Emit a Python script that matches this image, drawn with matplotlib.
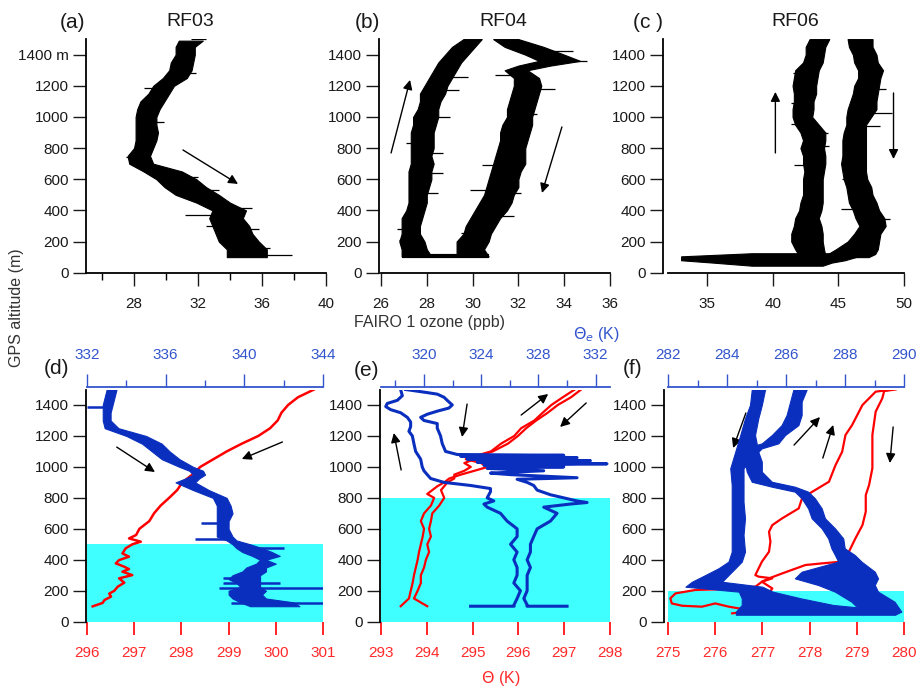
import matplotlib

matplotlib.use("Agg")
import numpy as np  # noqa: E402
import matplotlib.pyplot as plt  # noqa: E402
from matplotlib.ticker import MultipleLocator, FixedLocator  # noqa: E402

plt.rcParams["font.family"] = ["Liberation Sans", "DejaVu Sans"]

W, H = 920, 692
INK = "#1a1a1a"
RED = "#ff0000"
RED_TXT = "#ff2a2a"
BLUE = "#0a2fbe"
BLUE_AX = "#3355cc"
CYAN = "#40ffff"

# ---------------------------------------------------------------- top row: ozone (ppb)
RF03_ALT = [1490, 1450, 1400, 1350, 1300, 1250, 1200, 1150, 1100, 1050, 1000, 950, 900, 850,
            800, 750, 700, 650, 600, 550, 500, 450, 400, 350, 300, 250, 200, 150, 100]
RF03_LO = [30.8, 30.6, 30.6, 30.3, 30.2, 29.8, 29.2, 28.9, 28.4, 28.2, 28.1, 28.1, 28.1, 28.1,
           28.0, 27.6, 27.7, 28.6, 29.4, 29.9, 30.6, 31.9, 32.9, 32.7, 32.9, 33.1, 33.3, 33.8, 33.8]
RF03_HI = [32.3, 31.8, 31.8, 31.7, 31.6, 31.3, 30.5, 30.2, 29.9, 29.6, 29.4, 29.4, 29.5, 29.4,
           29.2, 29.0, 29.2, 31.0, 31.9, 32.5, 33.3, 34.0, 35.0, 34.8, 35.2, 35.4, 35.8, 36.3, 36.3]
# isolated spikes sticking out of the band (altitude, far end in ppb)
RF03_SPIKE_ALT = [1500, 1280, 1184, 968, 745, 642, 617, 531, 413, 370, 300, 278, 160, 113]
RF03_SPIKE_END = [32.5, 31.9, 28.6, 29.9, 27.5, 31.0, 32.0, 33.3, 35.4, 31.2, 32.5, 35.8, 36.5, 37.9]

RF04_UP_ALT = [1500, 1450, 1400, 1350, 1300, 1250, 1200, 1150, 1100, 1050, 1000, 950, 900, 850,
               800, 750, 700, 650, 600, 550, 500, 450, 400, 350, 300, 250, 200, 150, 105]
RF04_UP_LO = [29.6, 29.1, 28.8, 28.5, 28.3, 28.1, 27.9, 27.7, 27.7, 27.6, 27.4, 27.4, 27.3, 27.3,
              27.3, 27.3, 27.3, 27.2, 27.2, 27.2, 27.2, 27.2, 27.1, 26.9, 26.9, 26.9, 26.8, 26.9, 26.9]
RF04_UP_HI = [30.4, 30.1, 29.8, 29.5, 29.3, 29.1, 28.9, 28.8, 28.6, 28.5, 28.5, 28.4, 28.3, 28.3,
              28.3, 28.2, 28.3, 28.2, 28.2, 28.1, 28.0, 28.0, 27.9, 27.8, 27.7, 27.7, 27.9, 28.0, 28.2]
RF04_UP_SPIKE_ALT = [1259, 1171, 1002, 996, 831, 771, 638, 514, 278, 210]
RF04_UP_SPIKE_END = [29.8, 29.4, 29.0, 27.45, 27.1, 28.7, 28.7, 28.5, 26.7, 26.8]
RF04_DN_ALT = [1500, 1450, 1400, 1360, 1330, 1300, 1250, 1200, 1150, 1100, 1050, 1000, 950, 900,
               850, 800, 750, 700, 650, 600, 550, 500, 450, 400, 350, 300, 250, 200, 150, 105]
RF04_DN_LO = [30.9, 31.4, 32.3, 32.9, 32.0, 31.4, 31.8, 31.8, 31.7, 31.6, 31.5, 31.5, 31.3, 31.2,
              31.2, 31.1, 31.0, 30.9, 30.8, 30.7, 30.6, 30.5, 30.3, 30.1, 29.9, 29.7, 29.6, 29.3, 29.3, 29.3]
RF04_DN_HI = [32.0, 33.1, 34.0, 34.7, 33.4, 32.4, 32.9, 33.0, 32.9, 32.8, 32.7, 32.6, 32.6, 32.5,
              32.4, 32.3, 32.3, 32.3, 32.1, 32.0, 32.0, 31.8, 31.7, 31.5, 31.2, 31.0, 30.8, 30.7, 30.5, 30.7]
RF04_DN_SPIKE_ALT = [1424, 1360, 1268, 1182, 1124, 1017, 690, 531, 514, 364, 257]
RF04_DN_SPIKE_END = [34.4, 35.0, 31.0, 33.6, 32.6, 32.8, 30.4, 29.9, 32.1, 31.8, 29.5]

RF06_UP_ALT = [1500, 1450, 1400, 1350, 1300, 1250, 1200, 1150, 1100, 1050, 1000, 950, 900, 850,
               800, 750, 700, 650, 600, 550, 500, 450, 400, 350, 300, 250, 200, 150, 110]
RF06_UP_LO = [42.8, 42.5, 42.5, 42.3, 41.7, 41.6, 41.5, 41.6, 41.6, 41.5, 41.5, 41.7, 42.1, 42.3,
              42.1, 42.3, 42.3, 42.4, 42.3, 42.3, 42.3, 42.1, 42.0, 41.7, 41.6, 41.4, 41.4, 41.7, 42.0]
RF06_UP_HI = [44.3, 44.0, 43.9, 43.8, 43.5, 43.4, 43.3, 43.3, 43.1, 43.1, 43.0, 43.5, 44.0, 44.0,
              43.9, 44.0, 44.0, 43.9, 43.8, 43.8, 43.8, 43.8, 43.7, 43.5, 43.7, 43.8, 43.8, 43.9, 44.0]
RF06_UP_SPIKE_ALT = [1280, 1092, 953, 899, 814, 690, 193]
RF06_UP_SPIKE_END = [41.5, 41.4, 41.4, 44.2, 44.3, 41.6, 41.5]
RF06_DN_ALT = [1500, 1450, 1400, 1350, 1300, 1250, 1200, 1150, 1100, 1050, 1000, 950, 900, 850,
               800, 750, 700, 650, 600, 550, 500, 450, 400, 350, 300, 250, 200, 150, 120, 100]
RF06_DN_LO = [45.7, 45.8, 46.1, 46.2, 46.5, 46.5, 46.2, 46.1, 45.9, 45.7, 45.6, 45.6, 45.4, 45.3,
              45.3, 45.3, 45.2, 45.3, 45.4, 45.6, 45.7, 45.8, 46.1, 46.3, 46.6, 46.2, 45.7, 44.8, 44.2, 43.8]
RF06_DN_HI = [47.6, 47.6, 47.9, 48.0, 48.4, 48.2, 48.1, 48.0, 47.9, 47.9, 47.5, 47.1, 47.1, 47.1,
              47.1, 47.1, 47.1, 47.1, 47.2, 47.5, 47.6, 47.9, 48.1, 48.5, 48.6, 48.2, 48.1, 48.0, 47.8, 47.3]
RF06_DN_SPIKE_ALT = [1178, 1028, 942, 814, 600, 407, 347]
RF06_DN_SPIKE_END = [48.6, 49.1, 48.2, 45.4, 45.3, 45.2, 48.9]
RF06_SFC_ALT = [125, 105, 80, 65, 45]
RF06_SFC_LO = [38.4, 33.0, 33.0, 35.4, 38.4]
RF06_SFC_HI = [44.5, 46.5, 45.5, 44.5, 43.8]

# ---------------------------------------------------------------- (d) RF03 theta / theta_e
D_RED_ALT = [1500, 1450, 1400, 1350, 1300, 1250, 1200, 1150, 1100, 1050, 1000, 950, 900, 850, 800,
             750, 700, 650, 600, 560, 538, 517, 500, 474, 441, 420, 398, 377, 355, 340, 323, 301,
             280, 252, 226, 200, 181, 162, 140, 121, 99]
D_RED = [300.81, 300.47, 300.26, 300.12, 300.04, 299.88, 299.63, 299.28, 298.96, 298.68, 298.40,
         298.23, 298.02, 297.91, 297.74, 297.56, 297.42, 297.32, 297.11, 297.04, 296.89, 297.14,
         296.96, 296.82, 296.75, 296.89, 296.68, 296.61, 296.79, 296.89, 296.75, 296.96, 296.68,
         296.79, 296.65, 296.58, 296.47, 296.51, 296.37, 296.33, 296.12]
D_BLUE_ALT = [1500, 1450, 1400, 1350, 1300, 1250, 1200, 1150, 1100, 1050, 1000, 975, 950, 925, 900,
              850, 800, 750, 700, 650, 600, 550, 525, 500, 475, 450, 425, 400, 375, 350, 325, 300,
              275, 250, 225, 200, 175, 150, 125, 100]
D_BLUE_LO = [333.0, 332.9, 332.8, 332.8, 332.8, 332.9, 334.0, 334.8, 335.3, 335.8, 336.7, 337.2,
             337.4, 337.0, 336.5, 337.4, 338.4, 338.6, 338.6, 338.6, 338.6, 338.6, 339.1, 339.4,
             339.6, 339.9, 340.4, 340.8, 340.6, 340.1, 339.9, 339.4, 339.2, 339.6, 339.8, 339.2,
             339.2, 339.4, 339.8, 340.3]
D_BLUE_HI = [333.5, 333.4, 333.3, 333.2, 333.2, 333.6, 335.0, 335.8, 336.2, 336.7, 337.4, 337.9,
             338.0, 337.7, 337.5, 338.2, 339.1, 339.3, 339.4, 339.2, 339.2, 339.4, 339.6, 340.3,
             340.9, 341.4, 341.8, 341.1, 341.6, 341.1, 341.1, 340.8, 340.8, 340.8, 340.8, 341.1,
             340.9, 341.1, 342.5, 342.8]
D_SPIKE_ALT = [1390, 640, 532, 474, 284, 250, 220, 118]
D_SPIKE_FROM = [333.0, 338.6, 339.2, 340.5, 338.9, 338.9, 338.7, 339.3]
D_SPIKE_TO = [332.0, 337.8, 337.5, 342.0, 340.5, 341.8, 344.1, 344.1]

# ---------------------------------------------------------------- (e) RF04
E_RED_A_ALT = [1500, 1450, 1400, 1350, 1300, 1250, 1200, 1150, 1100, 1075, 1050, 1025, 1000, 975,
               950, 925, 900, 875, 850, 825, 800, 750, 700, 650, 600, 550, 500, 450, 400, 350,
               300, 250, 200, 150, 100]
E_RED_A = [297.37, 297.15, 296.86, 296.64, 296.39, 296.17, 295.99, 295.77, 295.44, 295.18, 294.85,
           295.18, 295.33, 295.04, 294.74, 294.49, 294.38, 294.23, 294.12, 294.01, 294.16, 294.09,
           293.94, 293.87, 293.94, 293.91, 293.87, 293.83, 293.80, 293.76, 293.72, 293.69, 293.65,
           293.61, 293.43]
E_RED_B_ALT = [1500, 1450, 1400, 1350, 1300, 1250, 1200, 1150, 1100, 1075, 1050, 1025, 1000, 975,
               950, 925, 900, 850, 800, 750, 700, 650, 600, 550, 500, 450, 400, 350, 300, 250,
               200, 150, 100]
E_RED_B = [297.23, 296.97, 296.72, 296.53, 296.35, 296.06, 295.91, 295.62, 295.40, 295.11, 295.04,
           294.82, 294.96, 294.82, 294.60, 294.60, 294.45, 294.31, 294.38, 294.27, 294.12, 294.09,
           294.05, 294.09, 294.01, 294.05, 293.98, 293.94, 293.87, 293.87, 293.80, 293.72, 294.01]
E_BL_ALT = [1500, 1460, 1430, 1410, 1390, 1370, 1350, 1320, 1290, 1260, 1230, 1200, 1150, 1100,
            1050, 1000, 975, 950, 925, 900, 880, 860, 840, 800, 780, 760, 740, 700, 650, 600,
            550, 500, 450, 400, 350, 300, 250, 200, 150, 110, 100, 100]
E_BL = [318.37, 318.49, 318.14, 317.44, 317.33, 317.67, 318.37, 318.84, 319.07, 319.07, 318.95,
        319.19, 319.30, 319.42, 319.77, 319.88, 320.00, 320.23, 320.47, 321.40, 323.26, 324.65,
        324.65, 324.42, 324.88, 324.19, 324.42, 325.35, 325.81, 326.51, 326.51, 326.05, 326.51,
        326.28, 326.51, 326.51, 326.28, 326.74, 326.51, 326.30, 326.30, 323.26]
E_BR_ALT = [1500, 1480, 1470, 1450, 1420, 1400, 1380, 1360, 1340, 1320, 1300, 1280, 1250, 1200,
            1150, 1100, 1080, 1075, 1070, 1060, 1050, 1040, 1030, 1020, 1010, 1000, 990, 975, 960,
            950, 930, 920, 900, 880, 850, 820, 800, 780, 770, 760, 740, 700, 650, 600, 550, 500,
            450, 400, 350, 300, 250, 200, 150, 110, 100, 100]
E_BR = [318.72, 320.23, 320.93, 321.40, 321.74, 321.98, 321.74, 320.93, 320.23, 319.77, 320.00,
        320.93, 320.93, 321.16, 321.28, 321.51, 322.33, 329.77, 322.56, 330.70, 323.02, 331.63,
        323.72, 332.79, 324.19, 329.77, 324.42, 328.37, 324.65, 326.05, 330.70, 326.51, 327.21,
        327.67, 327.91, 328.84, 329.77, 330.70, 331.40, 330.23, 328.37, 329.30, 328.84, 327.91,
        327.67, 327.44, 327.44, 327.21, 327.44, 327.21, 327.21, 327.21, 326.98, 327.20, 327.20,
        330.00]

# ---------------------------------------------------------------- (f) RF06
F_RU_ALT = [54, 65, 75, 86, 97, 118, 97, 103, 118, 151, 183, 205, 211, 226, 258, 280, 291, 301, 388,
            452, 517, 581, 624, 668, 732, 797, 840, 904, 1012, 1098, 1206, 1270, 1400, 1486, 1500]
F_RU = [276.36, 276.64, 276.92, 276.50, 276.29, 276.00, 275.72, 275.30, 275.08, 275.05, 275.16,
        275.58, 276.29, 276.85, 276.99, 277.21, 276.92, 276.85, 276.99, 277.14, 277.17, 277.14,
        277.21, 277.42, 277.77, 277.84, 278.06, 278.41, 278.55, 278.69, 278.76, 278.90, 279.12,
        279.40, 279.75]
F_RD_ALT = [1500, 1490, 1443, 1357, 1206, 991, 883, 818, 711, 624, 538, 431, 388, 377, 366, 312, 280,
            258, 215, 183, 162]
F_RD = [279.82, 279.58, 279.54, 279.40, 279.33, 279.33, 279.26, 279.19, 279.19, 279.12, 278.97,
        278.80, 278.69, 278.27, 277.91, 277.42, 277.14, 276.99, 277.21, 277.14, 277.21]
F_BL_ALT = [1500, 1400, 1313, 1206, 1098, 991, 883, 775, 668, 560, 452, 388, 345, 301, 258, 226,
            194, 151, 108, 65, 45]
F_BL_LO = [284.84, 284.78, 284.61, 284.45, 284.28, 284.11, 284.16, 284.16, 284.16, 284.16, 284.16,
           284.05, 283.71, 283.26, 282.81, 282.59, 284.40, 284.50, 284.50, 284.30, 284.30]
F_BL_HI = [285.29, 285.18, 285.06, 284.95, 285.06, 284.56, 284.56, 284.56, 284.61, 284.56, 284.61,
           284.50, 284.28, 284.05, 283.83, 285.20, 285.55, 286.50, 287.60, 289.90, 289.70]
F_BR_ALT = [1500, 1421, 1335, 1270, 1206, 1152, 1120, 1098, 1033, 969, 904, 872, 840, 797, 732,
            668, 603, 538, 474, 431, 388, 323, 280, 237, 194, 129, 65]
F_BR_LO = [286.25, 286.14, 286.02, 285.85, 285.52, 285.18, 284.61, 284.50, 284.61, 284.67, 284.84,
           285.52, 286.30, 286.53, 286.75, 286.87, 287.21, 287.43, 287.54, 287.66, 287.77, 286.53,
           286.30, 287.09, 287.66, 288.22, 288.56]
F_BR_HI = [286.70, 286.53, 286.53, 286.42, 285.97, 285.74, 285.18, 285.06, 285.18, 285.18, 285.52,
           286.30, 286.75, 286.98, 287.21, 287.32, 287.66, 287.94, 287.99, 288.33, 288.56, 289.01,
           289.12, 289.01, 289.12, 289.68, 289.91]

# mixed-layer depth (cyan) per flight
MIXED_TOP = {"d": 500, "e": 800, "f": 200}


def px_rect(left, right, bottom, top):
    """Axes rectangle from pixel edges of the 920x692 canvas."""
    return [left / W, (H - bottom) / H, (right - left) / W, (bottom - top) / H]


def style_alt_axis(ax, offset_px, first_label=False):
    ax.set_ylim(0, 1500)
    ax.yaxis.set_major_locator(FixedLocator([0, 200, 400, 600, 800, 1000, 1200, 1400]))
    labels = ["0", "200", "400", "600", "800", "1000", "1200", "1400 m" if first_label else "1400"]
    ax.set_yticklabels(labels)
    ax.spines["left"].set_position(("outward", offset_px * 0.72))
    ax.spines["left"].set_linewidth(1.3)
    ax.spines["right"].set_visible(False)
    ax.spines["top"].set_visible(False)
    ax.tick_params(axis="y", length=9.5, width=1.0, pad=3, labelsize=11, colors=INK)
    ax.patch.set_alpha(0)


def ozone_panel(ax, xlim, major, offset_px, first=False):
    style_alt_axis(ax, offset_px, first)
    ax.set_xlim(*xlim)
    ax.xaxis.set_major_locator(MultipleLocator(major))
    ax.spines["bottom"].set_linewidth(1.3)
    ax.tick_params(axis="x", which="major", length=9.5, width=1.0, pad=8, labelsize=11, colors=INK)
    ax.tick_params(axis="x", which="minor", length=5, width=1.0)


def band(ax, alt, lo, hi, color, spike_alt=None, spike_end=None):
    ax.fill_betweenx(alt, lo, hi, color=color, lw=0.8, edgecolor=color)
    if spike_alt:
        # each spike starts from the middle of the band at its altitude
        mid = (np.asarray(lo) + np.asarray(hi)) / 2
        order = np.argsort(alt)
        start = np.interp(spike_alt, np.asarray(alt)[order], mid[order])
        ax.hlines(spike_alt, start, spike_end, color=color, lw=0.9)


def arrow(ax, x0, y0, x1, y1):
    ax.annotate("", xy=(x1, y1), xytext=(x0, y0),
                arrowprops=dict(arrowstyle="-|>", color="black", lw=1.0,
                                mutation_scale=14, shrinkA=0, shrinkB=0))


def theta_panel(ax, red_lim, blue_lim, blue_minor, offset_px, key):
    style_alt_axis(ax, offset_px)
    ax.set_xlim(*red_lim)
    ax.xaxis.set_major_locator(MultipleLocator(1))
    ax.spines["bottom"].set_visible(False)
    ax.tick_params(axis="x", length=9.5, width=1.2, pad=8, labelsize=11,
                   colors=RED, labelcolor=RED_TXT)
    ax.axhspan(0, MIXED_TOP[key], color=CYAN, lw=0, zorder=0)
    top = ax.twiny()
    top.set_xlim(*blue_lim)
    top.set_ylim(0, 1500)
    top.xaxis.set_major_locator(MultipleLocator(blue_minor * 2))
    top.xaxis.set_minor_locator(MultipleLocator(blue_minor))
    for side in ("left", "right", "bottom"):
        top.spines[side].set_visible(False)
    top.spines["top"].set_color(BLUE_AX)
    top.spines["top"].set_linewidth(1.3)
    top.spines["top"].set_position(("outward", 2))
    top.tick_params(axis="x", which="major", length=9.5, width=1.0, pad=8, labelsize=11,
                    colors=BLUE_AX)
    top.tick_params(axis="x", which="minor", length=5, width=1.0, colors=BLUE_AX)
    top.patch.set_alpha(0)
    return top


fig = plt.figure(figsize=(W / 100, H / 100), dpi=100)

# top row ---------------------------------------------------------------
ax_a = fig.add_axes(px_rect(86, 326, 272.7, 39.1))
ozone_panel(ax_a, (25, 40), 4, 0, first=True)
ax_a.xaxis.set_major_locator(FixedLocator([28, 32, 36, 40]))
ax_a.xaxis.set_minor_locator(FixedLocator([26, 30, 34, 38]))
band(ax_a, RF03_ALT, RF03_LO, RF03_HI, "black", RF03_SPIKE_ALT, RF03_SPIKE_END)
arrow(ax_a, 31.06, 788, 34.5, 570)

ax_b = fig.add_axes(px_rect(381, 610, 272.7, 39.1))
ozone_panel(ax_b, (26, 36), 2, 2)
band(ax_b, RF04_UP_ALT, RF04_UP_LO, RF04_UP_HI, "black", RF04_UP_SPIKE_ALT, RF04_UP_SPIKE_END)
band(ax_b, RF04_DN_ALT, RF04_DN_LO, RF04_DN_HI, "black", RF04_DN_SPIKE_ALT, RF04_DN_SPIKE_END)
ax_b.plot([RF04_UP_LO[-1], RF04_DN_HI[-1]], [RF04_UP_ALT[-1], RF04_DN_ALT[-1]],
          color="black", lw=3, solid_capstyle="butt")
arrow(ax_b, 26.44, 769, 27.27, 1238)
arrow(ax_b, 33.9, 936, 33.03, 512)

ax_c = fig.add_axes(px_rect(668, 904, 272.7, 39.1))
ozone_panel(ax_c, (32, 50), 5, 5)
band(ax_c, RF06_UP_ALT, RF06_UP_LO, RF06_UP_HI, "black", RF06_UP_SPIKE_ALT, RF06_UP_SPIKE_END)
band(ax_c, RF06_DN_ALT, RF06_DN_LO, RF06_DN_HI, "black", RF06_DN_SPIKE_ALT, RF06_DN_SPIKE_END)
band(ax_c, RF06_SFC_ALT, RF06_SFC_LO, RF06_SFC_HI, "black")
arrow(ax_c, 40.19, 769, 40.19, 1161)
arrow(ax_c, 49.2, 1154, 49.2, 730)

# bottom row ------------------------------------------------------------
ax_d = fig.add_axes(px_rect(87, 323, 621.7, 389.5))
top_d = theta_panel(ax_d, (296, 301), (332, 344), 2, 1, "d")
ax_d.plot(D_RED, D_RED_ALT, color=RED, lw=1.8)
band(top_d, D_BLUE_ALT, D_BLUE_LO, D_BLUE_HI, BLUE)
top_d.hlines(D_SPIKE_ALT, D_SPIKE_FROM, D_SPIKE_TO, color=BLUE, lw=1.8)
arrow(ax_d, 296.63, 1128, 297.44, 967)
arrow(ax_d, 300.14, 1161, 299.28, 1051)

ax_e = fig.add_axes(px_rect(381, 610, 621.7, 389.5))
top_e = theta_panel(ax_e, (293, 298), (317, 333), 1, 1, "e")
top_e.xaxis.set_major_locator(FixedLocator([320, 324, 328, 332]))
top_e.xaxis.set_minor_locator(FixedLocator([318, 322, 326, 330]))
ax_e.plot(E_RED_A, E_RED_A_ALT, color=RED, lw=1.6)
ax_e.plot(E_RED_B, E_RED_B_ALT, color=RED, lw=1.6)
top_e.plot(E_BL, E_BL_ALT, color=BLUE, lw=2.2)
top_e.plot(E_BR, E_BR_ALT, color=BLUE, lw=2.2)
arrow(ax_e, 293.44, 980, 293.28, 1219)
arrow(ax_e, 294.88, 1406, 294.77, 1193)
arrow(ax_e, 296.06, 1335, 296.65, 1471)
arrow(ax_e, 297.48, 1413, 296.91, 1258)

ax_f = fig.add_axes(px_rect(668, 904, 621.7, 389.5))
top_f = theta_panel(ax_f, (275, 280), (282, 290), 1, 4, "f")
ax_f.plot(F_RU, F_RU_ALT, color=RED, lw=1.6)
ax_f.plot(F_RD, F_RD_ALT, color=RED, lw=1.6)
band(top_f, F_BL_ALT, F_BL_LO, F_BL_HI, BLUE)
band(top_f, F_BR_ALT, F_BR_LO, F_BR_HI, BLUE)
arrow(ax_f, 276.65, 1348, 276.38, 1122)
arrow(ax_f, 277.67, 1141, 278.22, 1322)
arrow(ax_f, 278.28, 1057, 278.5, 1271)
arrow(ax_f, 279.77, 1258, 279.7, 1025)


# labels ----------------------------------------------------------------
def fig_text(x, y, s, **kw):
    fig.text(x / W, 1 - y / H, s, ha="center", va="center", **kw)


for x, y, s in [(73, 22, "(a)"), (367, 22, "(b)"), (648, 22, "(c )"),
                (57, 369, "(d)"), (367, 370, "(e)"), (633, 369, "(f)")]:
    fig_text(x, y, s, fontsize=15, color=INK)
for x, s in [(190, "RF03"), (503, "RF04"), (795, "RF06")]:
    fig_text(x, 21, s, fontsize=14, color=INK)

fig_text(430, 323, "FAIRO 1 ozone (ppb)", fontsize=11.5, color="#333333")
fig_text(596, 334, r"$\Theta_e$ (K)", fontsize=11.5, color=BLUE_AX)
fig_text(501, 678, r"$\Theta$ (K)", fontsize=11.5, color=RED_TXT)
fig_text(17, 308, "GPS altitude (m)", fontsize=11.5, color="#333333", rotation=90)

fig.savefig("out.png", dpi=100)
